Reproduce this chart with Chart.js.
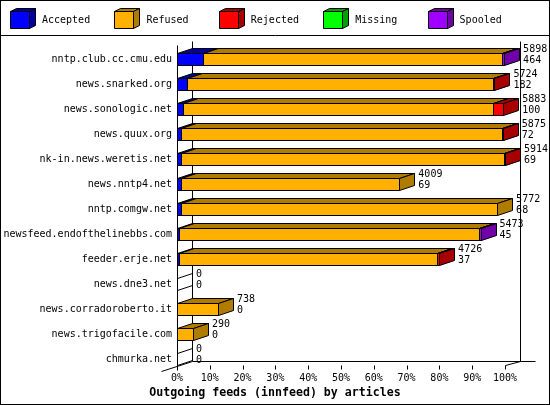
<!DOCTYPE html>
<html>
<head>
<meta charset="utf-8">
<script src="https://cdn.jsdelivr.net/npm/chart.js@4/dist/chart.umd.min.js"></script>
<style>
  html, body { margin: 0; padding: 0; background: #fff; }
  #wrap { width: 550px; height: 405px; }
</style>
</head>
<body>
<div id="wrap"><canvas id="feedChart" width="550" height="405"></canvas></div>
<script>
// innfeed outgoing feeds, article counts per peer
const categories = [
  'nntp.club.cc.cmu.edu', 'news.snarked.org', 'news.sonologic.net', 'news.quux.org',
  'nk-in.news.weretis.net', 'news.nntp4.net', 'nntp.comgw.net', 'newsfeed.endofthelinebbs.com',
  'feeder.erje.net', 'news.dne3.net', 'news.corradoroberto.it', 'news.trigofacile.com', 'chmurka.net'
]
const offered  = [5898, 5724, 5883, 5875, 5914, 4009, 5772, 5473, 4726, 0, 738, 290, 0]
const accepted = [464, 182, 100, 72, 69, 69, 68, 45, 37, 0, 0, 0, 0]
const refused  = [5394, 5517, 5603, 5783, 5827, 3940, 5704, 5403, 4654, 0, 738, 290, 0]
const rejected = [0, 25, 180, 20, 18, 0, 0, 0, 35, 0, 0, 0, 0]
const missing  = [0, 0, 0, 0, 0, 0, 0, 0, 0, 0, 0, 0, 0]
const spooled  = [40, 0, 0, 0, 0, 0, 0, 25, 0, 0, 0, 0, 0]
const chartTitle = 'Outgoing feeds (innfeed) by articles'

// bars are scaled against the biggest peer (= 100%)
const maxOffered = Math.max(...offered)
const pct = (arr) => arr.map((v) => v / maxOffered * 100)

const MONO = "'DejaVu Sans Mono', 'Liberation Mono', monospace"
const DX = 15, DY = 5   // 3d depth of the bars

Chart.defaults.font.family = MONO
Chart.defaults.font.size = 10
Chart.defaults.color = '#000'

const px = (v) => Math.round(v) + 0.5

function line(ctx, x1, y1, x2, y2) {
  ctx.beginPath()
  ctx.moveTo(px(x1), px(y1))
  ctx.lineTo(px(x2), px(y2))
  ctx.stroke()
}

function poly(ctx, pts, fill) {
  ctx.beginPath()
  pts.forEach(([a, b], i) => i ? ctx.lineTo(px(a), px(b)) : ctx.moveTo(px(a), px(b)))
  ctx.closePath()
  if (fill) { ctx.fillStyle = fill; ctx.fill() }
  ctx.stroke()
}

// front, top and side face of one block
function block(ctx, left, right, top, bottom, front, dark, dx, dy) {
  poly(ctx, [[left, top], [right, top], [right, bottom], [left, bottom]], front)
  poly(ctx, [[left, top], [left + dx, top - dy], [right + dx, top - dy], [right, top]], dark)
  poly(ctx, [[right, top], [right + dx, top - dy], [right + dx, bottom - dy], [right, bottom]], dark)
}

const bars3d = {
  id: 'bars3d',
  beforeDraw(chart) {
    const ctx = chart.ctx
    ctx.save()
    ctx.fillStyle = '#fff'
    ctx.fillRect(0, 0, chart.width, chart.height)
    ctx.restore()
  },
  beforeDatasetsDraw(chart) {
    const {ctx, chartArea: a, scales: {x, y}} = chart
    const x0 = x.getPixelForValue(0)
    const x1 = x.getPixelForValue(100)
    const floorF = a.bottom - 6
    const floorB = floorF - DY

    ctx.save()
    ctx.strokeStyle = '#000'
    ctx.lineWidth = 1

    // frame: walls and floor
    line(ctx, x0, a.top - 2, x0, floorF + 4)
    line(ctx, x0 + DX, a.top - 6, x0 + DX, floorB)
    line(ctx, x1 + DX, a.top - 6, x1 + DX, floorB)
    line(ctx, x0 + DX, floorB, x1 + DX + 15, floorB)
    line(ctx, x0 - DX - 1, floorB + (2 * DX + 1) * DY / DX, x0 + DX, floorB)
    line(ctx, x1, floorF - 1, x1 + DX, floorB)
    x.ticks.forEach((t) => {
      const tx = x.getPixelForValue(t.value)
      line(ctx, tx, floorF - 1, tx, floorF + 3)
    })

    // bars, left to right so later blocks hide the earlier side faces
    const metas = chart.data.datasets.map((d, i) => chart.getDatasetMeta(i))
    ctx.font = '10px ' + MONO
    ctx.textAlign = 'left'
    ctx.textBaseline = 'middle'
    categories.forEach((cat, j) => {
      let end = x0
      let cy = y.getPixelForValue(j)
      let half = 6
      let drawn = false
      metas.forEach((meta, i) => {
        const el = meta.data[j]
        const ds = chart.data.datasets[i]
        half = el.height / 2
        cy = el.y
        if (el.x - el.base < 0.5) return
        block(ctx, el.base, el.x, el.y - half, el.y + half, ds.backgroundColor, ds.sideColor, DX, DY)
        end = el.x
        drawn = true
      })
      if (!drawn) {
        line(ctx, x0, cy - half, x0 + DX, cy - half - DY)
        line(ctx, x0, cy + half, x0 + DX, cy + half - DY)
      }
      ctx.fillStyle = '#000'
      ctx.fillText(String(offered[j]), end + DX + 4, cy - 9.5)
      ctx.fillText(String(accepted[j]), end + DX + 4, cy + 1.5)
    })
    ctx.restore()
    return false
  },
  afterDraw(chart) {
    const ctx = chart.ctx
    ctx.save()
    ctx.strokeStyle = '#000'
    ctx.lineWidth = 1
    // legend with little cubes
    ctx.font = '10px ' + MONO
    ctx.textAlign = 'left'
    ctx.textBaseline = 'middle'
    chart.data.datasets.forEach((ds, i) => {
      const lx = 10 + i * 104.4
      block(ctx, lx, lx + 19, 11, 28, ds.backgroundColor, ds.sideColor, 6, 3)
      ctx.fillStyle = '#000'
      ctx.fillText(ds.label, lx + 32, 20)
    })
    line(ctx, 0, 35, chart.width, 35)
    ctx.strokeRect(0.5, 0.5, chart.width - 1, chart.height - 1)

    // title under the axis, centred on the whole picture
    ctx.font = 'bold 11.6px ' + MONO
    ctx.textAlign = 'center'
    ctx.fillText(chartTitle, chart.width / 2, chart.height - 12.5)
    ctx.restore()
  }
}

const context = document.getElementById('feedChart')

new Chart(context, {
  type: 'bar',
  data: {
    labels: categories,
    datasets: [
      {label: 'Accepted', data: pct(accepted), backgroundColor: '#0000ff', sideColor: '#00009c'},
      {label: 'Refused',  data: pct(refused),  backgroundColor: '#ffb000', sideColor: '#b07c00'},
      {label: 'Rejected', data: pct(rejected), backgroundColor: '#ff0000', sideColor: '#a80000'},
      {label: 'Missing',  data: pct(missing),  backgroundColor: '#00ff00', sideColor: '#00a000'},
      {label: 'Spooled',  data: pct(spooled),  backgroundColor: '#a000ff', sideColor: '#7000a8'}
    ]
  },
  options: {
    indexAxis: 'y',
    responsive: false,
    animation: false,
    devicePixelRatio: 1,
    barThickness: 12,
    layout: {padding: {top: 46.5, right: 45, bottom: 19.5, left: 0}},
    plugins: {
      legend: {display: false},
      tooltip: {enabled: false},
      title: {display: false}
    },
    scales: {
      x: {
        stacked: true, min: 0, max: 100,
        grid: {display: false, drawTicks: false},
        border: {display: false},
        ticks: {stepSize: 10, padding: 1, maxRotation: 0, autoSkip: false, callback: (v) => v + '%'},
        afterFit: (s) => { s.height = 14 }
      },
      y: {
        stacked: true,
        grid: {display: false, drawTicks: false},
        border: {display: false},
        ticks: {padding: 5, autoSkip: false},
        afterFit: (s) => { s.width = 177 }
      }
    }
  },
  plugins: [bars3d]
})
</script>
</body>
</html>
